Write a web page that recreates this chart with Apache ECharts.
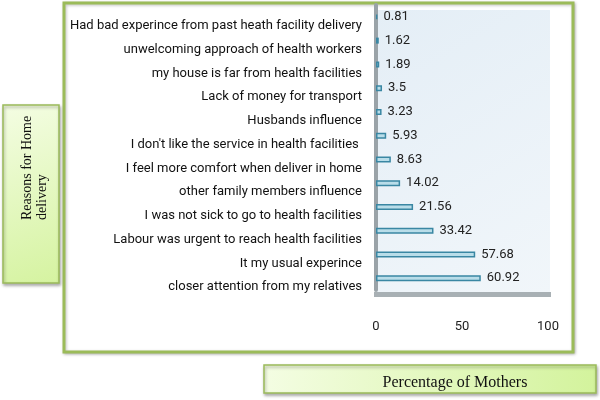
<!DOCTYPE html>
<html>
<head>
<meta charset="utf-8">
<script src="https://cdn.jsdelivr.net/npm/echarts@6/dist/echarts.min.js"></script>
<style>
  html, body { margin: 0; padding: 0; background: #fff; }
  #chart { width: 600px; height: 400px; }
</style>
</head>
<body>
<div id="chart"></div>
<script>
// categories from bottom to top (category axis runs upward)
const reasons = [
  'closer attention from my relatives',
  'It my usual experince',
  'Labour was urgent to reach health facilities',
  'I was not sick to go to health facilities',
  'other family members influence',
  'I feel more comfort when deliver in home',
  "I don't like the service in health facilities ",
  'Husbands influence',
  'Lack of money for transport',
  'my house is far from health facilities',
  'unwelcoming approach of health workers',
  'Had bad experince from past heath facility delivery'
];
const percentages = [60.92, 57.68, 33.42, 21.56, 14.02, 8.63, 5.93, 3.23, 3.5, 1.89, 1.62, 0.81];
const xTicks = [0, 50, 100];

const green = '#9bbb59';
const font = 'Roboto, "Liberation Sans", sans-serif';

const chart = echarts.init(document.getElementById('chart'));

chart.setOption({
  backgroundColor: '#fff',
  animation: false,
  grid: { left: 376, right: 52, top: 5, bottom: 110 },
  xAxis: {
    type: 'value',
    min: xTicks[0],
    max: xTicks[xTicks.length - 1],
    interval: 50,
    splitLine: { show: false },
    axisLine: { show: false },
    axisTick: { show: false },
    axisLabel: { margin: 30, color: '#222', fontSize: 13, fontFamily: font }
  },
  yAxis: {
    type: 'category',
    data: reasons,
    axisTick: { show: false },
    axisLine: { lineStyle: { color: '#9aa3a8', width: 4 } },
    axisLabel: {
      margin: 14,
      color: '#111',
      fontSize: 13,
      fontFamily: font,
      verticalAlign: 'top',
      lineHeight: 18
    }
  },
  series: [{
    type: 'bar',
    data: percentages,
    barWidth: 6,
    itemStyle: { color: '#b9dde9', borderColor: '#3a87a3', borderWidth: 1.5 },
    label: {
      show: true,
      position: 'right',
      distance: 6,
      color: '#222',
      fontSize: 13,
      fontFamily: font
    }
  }],
  graphic: [
    // outer green frame
    {
      type: 'rect', z: -10,
      shape: { x: 64, y: 3, width: 509, height: 349 },
      style: { fill: '#fff', stroke: green, lineWidth: 3,
        shadowBlur: 3, shadowColor: 'rgba(0,0,0,0.25)', shadowOffsetX: 1, shadowOffsetY: 1 }
    },
    // plot wall
    {
      type: 'rect', z: -5,
      shape: { x: 377, y: 10, width: 173, height: 284 },
      style: { fill: {
        type: 'linear', x: 0, y: 0, x2: 1, y2: 1,
        colorStops: [{ offset: 0, color: '#e4eef6' }, { offset: 1, color: '#f1f6fa' }]
      } }
    },
    // floor
    {
      type: 'rect', z: -4,
      shape: { x: 374, y: 292, width: 177, height: 5 },
      style: { fill: '#a8b0b4' }
    },
    // y title box
    {
      type: 'rect', z: -10,
      shape: { x: 3, y: 105, width: 56, height: 178 },
      style: { fill: {
        type: 'linear', x: 0, y: 0, x2: 1, y2: 1,
        colorStops: [{ offset: 0, color: '#f4fde3' }, { offset: 1, color: '#d5f3a0' }]
      }, stroke: green, lineWidth: 1.5,
        shadowBlur: 3, shadowColor: 'rgba(0,0,0,0.3)', shadowOffsetX: 1, shadowOffsetY: 2 }
    },
    {
      type: 'text', x: 35, y: 220, rotation: Math.PI / 2,
      style: {
        text: 'Reasons for Home\ndelivery',
        fill: '#111',
        font: '14px "Liberation Serif", serif',
        lineHeight: 15,
        align: 'left',
        verticalAlign: 'middle'
      }
    },
    // x title box
    {
      type: 'rect', z: -10,
      shape: { x: 264, y: 365, width: 332, height: 28 },
      style: { fill: {
        type: 'linear', x: 0, y: 0, x2: 1, y2: 1,
        colorStops: [{ offset: 0, color: '#f4fde3' }, { offset: 1, color: '#d3f39c' }]
      }, stroke: green, lineWidth: 1.5,
        shadowBlur: 3, shadowColor: 'rgba(0,0,0,0.3)', shadowOffsetX: 1, shadowOffsetY: 2 }
    },
    {
      type: 'text', x: 455, y: 383,
      style: {
        text: 'Percentage of Mothers',
        fill: '#111',
        font: '16px "Liberation Serif", serif',
        align: 'center',
        verticalAlign: 'middle'
      }
    }
  ]
});
</script>
</body>
</html>
